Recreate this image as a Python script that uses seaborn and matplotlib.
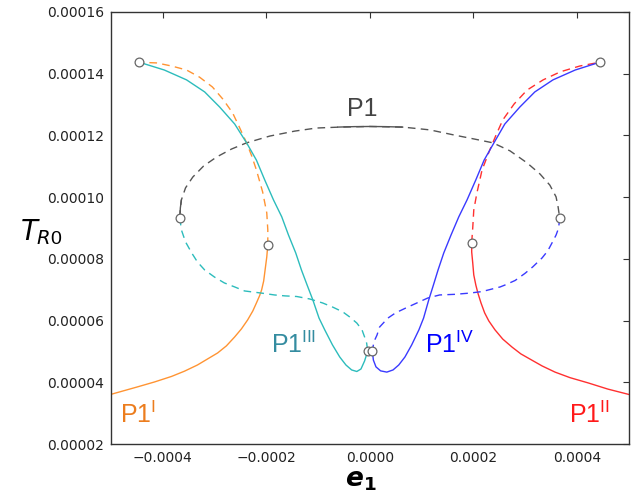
import matplotlib
matplotlib.use("Agg")
import matplotlib.pyplot as plt
import numpy as np
import pandas as pd
import seaborn as sns

# Units used in the tables below
E1_UNIT = 1e-4   # e1 values are listed in units of 1e-4
T_UNIT = 1e-5    # T_R0 values are listed in units of 1e-5

# ---- P1 main branch (grey): unstable part dashed, short stable parts solid
p1_dashed_e1 = [-3.67, -3.66, -3.64, -3.56, -3.42, -3.21, -2.96, -2.67, -2.38, -1.93,
                -1.45, -1.03, -0.58, 0.00, 0.64, 1.16, 1.64, 2.03, 2.38, 2.71,
                3.04, 3.29, 3.48, 3.60, 3.64, 3.67]
p1_dashed_T = [9.33, 9.65, 9.91, 10.30, 10.65, 11.01, 11.30, 11.56, 11.76, 11.98,
               12.14, 12.24, 12.27, 12.29, 12.27, 12.18, 12.01, 11.88, 11.76, 11.50,
               11.11, 10.75, 10.39, 10.01, 9.68, 9.33]
p1_top_e1 = [-0.62, -0.30, 0.00, 0.30, 0.64]
p1_top_T = [12.27, 12.285, 12.29, 12.285, 12.27]
p1_left_e1 = [-3.67, -3.66, -3.64]
p1_left_T = [9.33, 9.65, 9.91]

# ---- P1^I branch (orange)
p1_I_solid_e1 = [-5.02, -4.49, -4.16, -3.83, -3.58, -3.33, -3.13, -2.94, -2.77, -2.61,
                 -2.48, -2.36, -2.26, -2.19, -2.13, -2.09, -2.05, -2.03, -2.01, -1.99, -1.97]
p1_I_solid_T = [3.60, 3.85, 4.01, 4.19, 4.36, 4.56, 4.76, 4.95, 5.18, 5.47,
                5.73, 6.02, 6.31, 6.57, 6.80, 6.99, 7.28, 7.54, 7.80, 8.06, 8.45]
p1_I_dashed_e1 = [-1.97, -1.97, -1.99, -2.07, -2.19, -2.28, -2.38, -2.52, -2.65, -2.84,
                  -3.04, -3.29, -3.54, -3.83, -4.12, -4.45]
p1_I_dashed_T = [8.45, 8.94, 9.49, 10.17, 10.88, 11.33, 11.76, 12.27, 12.73, 13.18,
                 13.57, 13.89, 14.12, 14.25, 14.35, 14.37]

# ---- P1^II branch (red)
p1_II_solid_e1 = [5.02, 4.60, 4.22, 3.87, 3.58, 3.33, 3.13, 2.92, 2.75, 2.57,
                  2.42, 2.30, 2.22, 2.15, 2.09, 2.05, 2.01, 1.99, 1.97, 1.97]
p1_II_solid_T = [3.60, 3.78, 3.98, 4.15, 4.33, 4.53, 4.72, 4.92, 5.14, 5.40,
                 5.70, 5.99, 6.25, 6.57, 6.89, 7.15, 7.48, 7.87, 8.22, 8.53]
p1_II_dashed_e1 = [1.97, 1.99, 2.01, 2.07, 2.17, 2.32, 2.44, 2.57, 2.79, 3.04,
                   3.35, 3.68, 4.06, 4.44]
p1_II_dashed_T = [8.53, 9.00, 9.58, 10.13, 10.88, 11.53, 12.01, 12.50, 13.02, 13.47,
                  13.80, 14.06, 14.25, 14.37]

# ---- P1^III branch (cyan)
p1_III_solid_e1 = [-4.45, -3.97, -3.54, -3.19, -2.90, -2.61, -2.38, -2.19, -2.03, -1.86,
                   -1.70, -1.57, -1.43, -1.32, -1.21, -1.10, -0.98, -0.87, -0.72, -0.58,
                   -0.46, -0.35, -0.25, -0.17, -0.10, -0.04]
p1_III_solid_T = [14.37, 14.12, 13.80, 13.41, 12.92, 12.37, 11.76, 11.20, 10.56, 9.91,
                  9.36, 8.77, 8.19, 7.64, 7.15, 6.67, 6.08, 5.70, 5.21, 4.82,
                  4.56, 4.40, 4.35, 4.43, 4.69, 5.01]
p1_III_dashed_e1 = [-3.67, -3.64, -3.56, -3.44, -3.33, -3.19, -3.00, -2.81, -2.61, -2.42,
                    -2.09, -1.84, -1.64, -1.41, -1.16, -0.91, -0.72, -0.52, -0.39, -0.25,
                    -0.15, -0.10, -0.06, -0.04]
p1_III_dashed_T = [9.33, 8.94, 8.55, 8.19, 7.90, 7.64, 7.41, 7.22, 7.09, 6.96,
                   6.89, 6.83, 6.80, 6.78, 6.70, 6.57, 6.44, 6.28, 6.12, 5.92,
                   5.70, 5.47, 5.27, 5.01]

# ---- P1^IV branch (blue)
p1_IV_solid_e1 = [4.44, 3.97, 3.54, 3.19, 2.90, 2.61, 2.40, 2.21, 2.05, 1.88,
                  1.72, 1.57, 1.43, 1.32, 1.23, 1.14, 1.04, 0.95, 0.81, 0.68,
                  0.56, 0.45, 0.33, 0.21, 0.12, 0.07, 0.05]
p1_IV_solid_T = [14.37, 14.12, 13.80, 13.41, 12.92, 12.37, 11.76, 11.20, 10.56, 9.91,
                 9.36, 8.77, 8.19, 7.64, 7.15, 6.67, 6.08, 5.70, 5.21, 4.82,
                 4.56, 4.40, 4.33, 4.37, 4.50, 4.72, 5.01]
p1_IV_dashed_e1 = [3.67, 3.65, 3.60, 3.52, 3.44, 3.33, 3.15, 3.00, 2.81, 2.61,
                   2.52, 2.17, 1.93, 1.64, 1.35, 1.12, 0.91, 0.70, 0.50, 0.35,
                   0.19, 0.14, 0.08, 0.05]
p1_IV_dashed_T = [9.33, 9.00, 8.77, 8.51, 8.26, 8.03, 7.74, 7.53, 7.30, 7.15,
                  7.09, 6.94, 6.89, 6.85, 6.83, 6.73, 6.57, 6.41, 6.25, 6.08,
                  5.79, 5.53, 5.31, 5.01]

# ---- bifurcation points (open circles)
bif_e1 = [-4.45, 4.44, -3.67, 3.67, -1.97, 1.97, -0.04, 0.05]
bif_T = [14.37, 14.37, 9.33, 9.33, 8.45, 8.53, 5.01, 5.01]

# ---- axes ticks
x_ticks = [-0.0004, -0.0002, 0.0, 0.0002, 0.0004]
x_tick_labels = ["\u22120.0004", "\u22120.0002", "0.0000", "0.0002", "0.0004"]
y_ticks = [0.00002, 0.00004, 0.00006, 0.00008, 0.00010, 0.00012, 0.00014, 0.00016]
y_tick_labels = ["0.00002", "0.00004", "0.00006", "0.00008",
                 "0.00010", "0.00012", "0.00014", "0.00016"]

# ---- colours
C_GREY = "#555555"
C_ORANGE = "#ff9433"
C_RED = "#ff3030"
C_CYAN = "#2cbcbc"
C_BLUE = "#3a3aff"

sns.set_theme(style="white")
plt.rcParams.update({
    "font.family": ["DejaVu Sans"],
    "mathtext.fontset": "custom",
    "mathtext.rm": "Liberation Sans",
    "mathtext.it": "DejaVu Sans:italic",
    "mathtext.bf": "DejaVu Sans:bold",
    "mathtext.bfit": "DejaVu Sans:italic:bold",
    "lines.dashed_pattern": [5.5, 3.8],
    "xtick.direction": "in",
    "ytick.direction": "in",
    "xtick.top": True,
    "ytick.right": True,
})

fig = plt.figure(figsize=(6.35, 4.97), dpi=100)
ax = fig.add_axes([111 / 635, 53 / 497, 517.5 / 635, 432 / 497])


def curve(e1, T, color, dashed, lw=1.0):
    df = pd.DataFrame({"e1": np.asarray(e1) * E1_UNIT, "T": np.asarray(T) * T_UNIT})
    sns.lineplot(data=df, x="e1", y="T", sort=False, estimator=None, color=color,
                 linewidth=lw, linestyle="--" if dashed else "-", ax=ax, zorder=2)


curve(p1_dashed_e1, p1_dashed_T, C_GREY, True)
curve(p1_top_e1, p1_top_T, C_GREY, False)
curve(p1_left_e1, p1_left_T, C_GREY, False)

curve(p1_I_solid_e1, p1_I_solid_T, C_ORANGE, False)
curve(p1_I_dashed_e1, p1_I_dashed_T, C_ORANGE, True)
curve(p1_II_solid_e1, p1_II_solid_T, C_RED, False)
curve(p1_II_dashed_e1, p1_II_dashed_T, C_RED, True)
curve(p1_III_solid_e1, p1_III_solid_T, C_CYAN, False)
curve(p1_III_dashed_e1, p1_III_dashed_T, C_CYAN, True)
curve(p1_IV_solid_e1, p1_IV_solid_T, C_BLUE, False)
curve(p1_IV_dashed_e1, p1_IV_dashed_T, C_BLUE, True)

bif = pd.DataFrame({"e1": np.asarray(bif_e1) * E1_UNIT, "T": np.asarray(bif_T) * T_UNIT})
sns.scatterplot(data=bif, x="e1", y="T", ax=ax, s=40, marker="o", facecolor="white",
                edgecolor="#666666", linewidth=0.9, zorder=5)

# branch labels
lab_kw = dict(fontsize=18, family="Liberation Sans", zorder=6)
ax.text(-0.14 * E1_UNIT, 12.86 * T_UNIT, "P1", color="#444444", ha="center",
        va="center", **lab_kw)
ax.text(-1.90 * E1_UNIT, 4.95 * T_UNIT, r"P1$^{\mathrm{III}}$", color="#348ca0",
        ha="left", va="baseline", **lab_kw)
ax.text(1.06 * E1_UNIT, 4.95 * T_UNIT, r"P1$^{\mathrm{IV}}$", color="#0000ff",
        ha="left", va="baseline", **lab_kw)
ax.text(-4.82 * E1_UNIT, 2.68 * T_UNIT, r"P1$^{\mathrm{I}}$", color="#ec7d1e",
        ha="left", va="baseline", **lab_kw)
ax.text(3.85 * E1_UNIT, 2.68 * T_UNIT, r"P1$^{\mathrm{II}}$", color="#ff1a1a",
        ha="left", va="baseline", **lab_kw)

ax.set_xlim(-0.0005, 0.0005)
ax.set_ylim(0.00002, 0.00016)
ax.set_xticks(x_ticks, x_tick_labels)
ax.set_yticks(y_ticks, y_tick_labels)
ax.tick_params(axis="both", which="major", length=4.5, width=0.8, color="#333333",
               labelsize=10, labelcolor="#222222", pad=5)
ax.minorticks_off()
for sp in ax.spines.values():
    sp.set_color("#333333")
    sp.set_linewidth(1.0)

ax.set_xlabel(r"$\mathbfit{e}_\mathbf{1}$", fontsize=19, color="black")
ax.xaxis.set_label_coords(0.482, -0.083)
ax.xaxis.label.set_va("center")
ax.set_ylabel(r"$\mathit{T_{R0}}$", fontsize=20, rotation=0, color="black")
ax.yaxis.set_label_coords(-0.135, 0.49)
ax.yaxis.label.set_va("center")
ax.yaxis.label.set_ha("center")

fig.savefig("out.png", dpi=100)
